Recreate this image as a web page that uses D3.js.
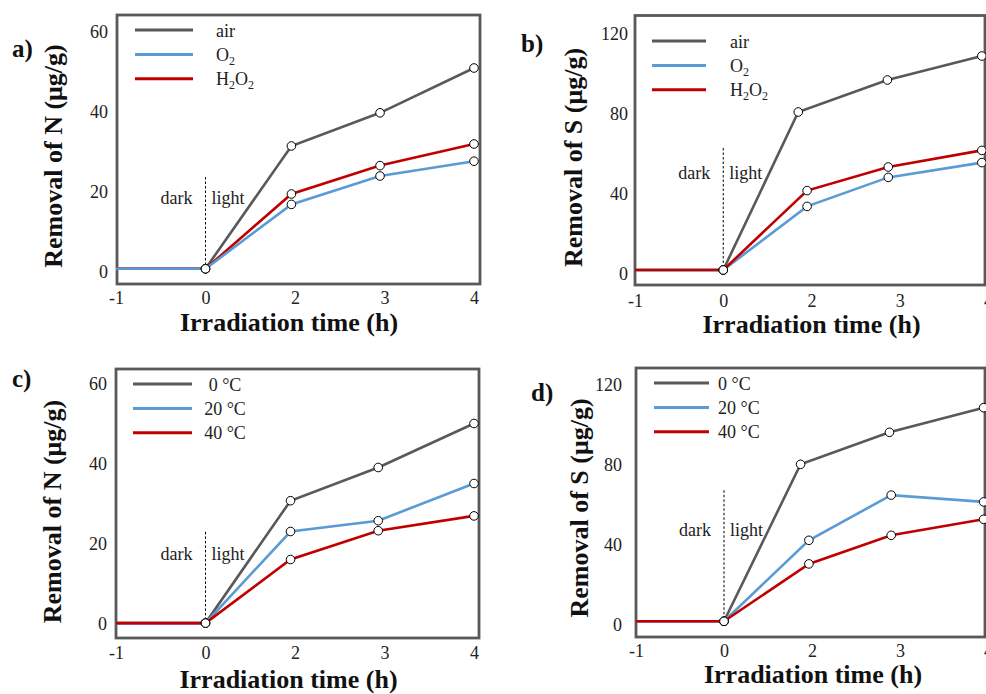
<!DOCTYPE html>
<html>
<head>
<meta charset="utf-8">
<script src="https://cdn.jsdelivr.net/npm/d3@7"></script>
<style>
  body { margin: 0; background: #fff; }
  svg { display: block; font-family: "Liberation Serif", "Times New Roman", serif; }
</style>
</head>
<body>
<script>
// Categorie dell'asse x e tick dell'asse y
var hours = [-1, 0, 2, 3, 4];
var ticksN = [0, 20, 40, 60];
var ticksS = [0, 40, 80, 120];
var gasLabels = ["air", "O2", "H2O2"];
var tempLabels = ["0 °C", "20 °C", "40 °C"];

// a) rimozione di N, atmosfera
var timeA = [-1, 0, 1.92, 2.95, 4];
var airA = [0.8, 0.8, 31.5, 39.8, 51];
var o2A = [0.8, 0.8, 16.9, 24, 27.7];
var h2o2A = [0.8, 0.8, 19.5, 26.6, 32];

// b) rimozione di S, atmosfera
var timeB = [-1, 0, 1.9, 2.87, 3.93];
var timeBAir = [-1, 0, 1.7, 2.86, 3.93];
var airB = [2, 2, 81, 97, 109];
var o2B = [2, 2, 33.8, 48.3, 55.7];
var h2o2B = [2, 2, 41.7, 53.5, 61.8];

// c) rimozione di N, temperatura
var timeC = [-1, 0, 1.9, 2.93, 4];
var t0C = [0.1, 0.1, 30.7, 39, 50];
var t20C = [0.1, 0.1, 23, 25.7, 35];
var t40C = [0.1, 0.1, 16, 23.2, 26.9];

// d) rimozione di S, temperatura
var timeD = [-1, 0, 1.93, 2.9, 3.95];
var timeDCold = [-1, 0, 1.74, 2.88, 3.95];
var t0D = [1.5, 1.5, 80, 96, 108.3];
var t20D = [1.5, 1.5, 42, 64.6, 61.2];
var t40D = [1.5, 1.5, 30.2, 44.5, 52.5];

var colors = ["#595959", "#5b9bd5", "#c00000"];
var frameColor = "#595959";

var svg = d3.select("body").append("svg")
  .attr("width", 986)
  .attr("height", 694);

// Impaginazione dei quattro pannelli
var panels = [
  { letter: "a)", lx: 12, ly: 57, frame: [117, 15, 480, 284], xr: [116, 474],
    y0: 272, y1: 32, ticks: ticksN, yGap: 9, xPad: 7,
    yTitle: "Removal of N (μg/g)", ytx: 62, yty: 156, xtx: 289, xty: 331,
    legend: gasLabels, legX: [135, 193], legY: 30, legText: 216, legAnchor: "start", sub: true,
    series: [[timeA, airA, 0], [timeA, h2o2A, 2], [timeA, o2A, 1]],
    dash: 23.75, note: 17 },
  { letter: "b)", lx: 521, ly: 52, frame: [635, 15.5, 985, 285], xr: [635, 988],
    y0: 274, y1: 34, ticks: ticksS, yGap: 7, xPad: 9,
    yTitle: "Removal of S (μg/g)", ytx: 582, yty: 157.5, xtx: 811.5, xty: 333,
    legend: gasLabels, legX: [652, 706], legY: 41, legText: 730, legAnchor: "start", sub: true,
    series: [[timeBAir, airB, 0], [timeB, o2B, 1], [timeB, h2o2B, 2]],
    dash: 63, note: 47.5 },
  { letter: "c)", lx: 12, ly: 387, frame: [116, 369, 479, 638], xr: [116, 474],
    y0: 623.5, y1: 383.5, ticks: ticksN, yGap: 9, xPad: 8,
    yTitle: "Removal of N (μg/g)", ytx: 61, yty: 511.5, xtx: 288.5, xty: 688,
    legend: tempLabels, legX: [133, 192], legY: 384, legText: 225, legAnchor: "middle", sub: false,
    series: [[timeC, t0C, 0], [timeC, t20C, 1], [timeC, t40C, 2]],
    dash: 22.9, note: 15.9 },
  { letter: "d)", lx: 531, ly: 401, frame: [636, 368, 985, 637], xr: [636, 988],
    y0: 624.3, y1: 384.3, ticks: ticksS, yGap: 14, xPad: 7,
    yTitle: "Removal of S (μg/g)", ytx: 588, yty: 508, xtx: 813, xty: 683,
    legend: tempLabels, legX: [654, 709], legY: 383, legText: 718, legAnchor: "start", sub: false,
    series: [[timeDCold, t0D, 0], [timeD, t20D, 1], [timeD, t40D, 2]],
    dash: 67, note: 44 }
];

// Testo con pedici (O2, H2O2)
function writeLabel(sel, text, sub) {
  if (!sub) { sel.text(text); return; }
  var down = false;
  text.split(/(\d)/).filter(function (s) { return s; }).forEach(function (part) {
    var isSub = /\d/.test(part);
    var t = sel.append("tspan").text(part);
    if (isSub) { t.attr("font-size", 12).attr("dy", down ? 0 : 4); down = true; }
    else { t.attr("dy", down ? -4 : 0); down = false; }
  });
}

panels.forEach(function (p) {
  var g = svg.append("g");
  var step = (p.xr[1] - p.xr[0]) / (hours.length - 1);
  var x = d3.scaleLinear()
    .domain(hours)
    .range(hours.map(function (d, i) { return p.xr[0] + i * step; }));
  var y = d3.scaleLinear()
    .domain([0, p.ticks[p.ticks.length - 1]])
    .range([p.y0, p.y1]);

  // Assi (solo etichette)
  var ax = g.append("g")
    .attr("transform", "translate(0," + p.frame[3] + ")")
    .call(d3.axisBottom(x).tickValues(hours).tickSize(0).tickPadding(p.xPad)
      .tickFormat(function (d) { return String(d); }));
  var ay = g.append("g")
    .attr("transform", "translate(" + p.frame[0] + ",0)")
    .call(d3.axisLeft(y).tickValues(p.ticks).tickSize(0).tickPadding(p.yGap)
      .tickFormat(function (d) { return String(d); }));
  [ax, ay].forEach(function (a) {
    a.select(".domain").remove();
    a.attr("font-family", null).attr("font-size", null);
    a.selectAll("text").attr("font-size", 18).attr("fill", "#222");
  });

  // Cornice
  g.append("rect")
    .attr("x", p.frame[0]).attr("y", p.frame[1])
    .attr("width", p.frame[2] - p.frame[0]).attr("height", p.frame[3] - p.frame[1])
    .attr("fill", "none").attr("stroke", frameColor).attr("stroke-width", 2.8);

  // Linea tratteggiata buio / luce
  var x0 = x(0);
  g.append("line")
    .attr("x1", x0).attr("x2", x0)
    .attr("y1", y(p.dash)).attr("y2", y(p.series[0][1][1]) - 4)
    .attr("stroke", "#000").attr("stroke-width", 1).attr("stroke-dasharray", "2.5,2");
  g.append("text").attr("x", x0 - 13).attr("y", y(p.note))
    .attr("text-anchor", "end").attr("font-size", 18).attr("fill", "#222").text("dark");
  g.append("text").attr("x", x0 + 6).attr("y", y(p.note))
    .attr("font-size", 18).attr("fill", "#222").text("light");

  // Serie
  var line = d3.line()
    .x(function (d) { return x(d[0]); })
    .y(function (d) { return y(d[1]); });
  var pts = p.series.map(function (s) {
    return { color: colors[s[2]], points: d3.zip(s[0], s[1]) };
  });
  g.selectAll("path.serie").data(pts).enter().append("path")
    .attr("class", "serie")
    .attr("d", function (d) { return line(d.points); })
    .attr("fill", "none")
    .attr("stroke", function (d) { return d.color; })
    .attr("stroke-width", 2.6);
  pts.forEach(function (s) {
    g.selectAll(null).data(s.points.slice(1)).enter().append("circle")
      .attr("cx", function (d) { return x(d[0]); })
      .attr("cy", function (d) { return y(d[1]); })
      .attr("r", 4.3)
      .attr("fill", "#fff").attr("stroke", "#000").attr("stroke-width", 1);
  });

  // Legenda
  p.legend.forEach(function (lab, i) {
    var ly = p.legY + i * 24.4;
    g.append("line")
      .attr("x1", p.legX[0]).attr("x2", p.legX[1])
      .attr("y1", ly).attr("y2", ly)
      .attr("stroke", colors[i]).attr("stroke-width", 3);
    var t = g.append("text").attr("x", p.legText).attr("y", ly + 6.5)
      .attr("text-anchor", p.legAnchor).attr("font-size", 18).attr("fill", "#222");
    writeLabel(t, lab, p.sub);
  });

  // Titoli degli assi e lettera del pannello
  g.append("text")
    .attr("transform", "translate(" + p.ytx + "," + p.yty + ") rotate(-90)")
    .attr("text-anchor", "middle").attr("font-size", 26).attr("font-weight", "bold")
    .attr("fill", "#111").text(p.yTitle);
  g.append("text").attr("x", p.xtx).attr("y", p.xty)
    .attr("text-anchor", "middle").attr("font-size", 26).attr("font-weight", "bold")
    .attr("fill", "#111").text("Irradiation time (h)");
  g.append("text").attr("x", p.lx).attr("y", p.ly)
    .attr("font-size", 25).attr("font-weight", "bold").attr("fill", "#111").text(p.letter);
});
</script>
</body>
</html>
